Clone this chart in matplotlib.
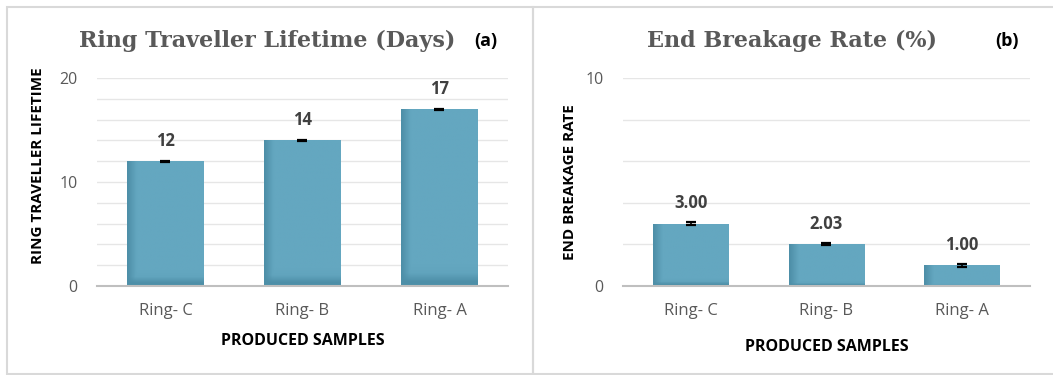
import matplotlib
matplotlib.use('Agg')
import matplotlib.pyplot as plt
from matplotlib.patches import Rectangle
import numpy as np

samples = ['Ring- C', 'Ring- B', 'Ring- A']

lifetime = [12, 14, 17]
lifetime_err = [0.05, 0.05, 0.05]
lifetime_labels = ['12', '14', '17']

breakage = [3.00, 2.03, 1.00]
breakage_err = [0.08, 0.06, 0.08]
breakage_labels = ['3.00', '2.03', '1.00']

BAR = '#64a7c0'
DARK = '#3f7f98'
GREY = '#595959'
SANS = ['Open Sans', 'DejaVu Sans']
SERIF = ['DejaVu Serif']


def shade_bars(ax, bars):
    # darker band along left edge and bottom of each bar
    xs = np.linspace(0, 1, 40)
    ys = np.linspace(0, 1, 20)
    left = np.clip(1 - xs / 0.12, 0, 1)
    bottom = np.clip(1 - ys / 0.06, 0, 1)
    grad = np.maximum(left[None, :], bottom[:, None]) * 0.6
    cmap = matplotlib.colors.LinearSegmentedColormap.from_list('sh', [BAR, DARK])
    for b in bars:
        x0, y0 = b.get_x(), b.get_y()
        im = ax.imshow(grad, extent=(x0, x0 + b.get_width(), y0, y0 + b.get_height()),
                       origin='lower', cmap=cmap, vmin=0, vmax=1, aspect='auto',
                       zorder=2, interpolation='bilinear')
        im.set_clip_path(b)


def panel(ax, values, errs, labels, ymax, major, title, tag, ylabel, tag_x):
    x = np.arange(len(samples))
    bars = ax.bar(x, values, width=0.555, color=BAR, zorder=2)
    shade_bars(ax, bars)
    ax.errorbar(x, values, yerr=errs, fmt='none', ecolor='black', elinewidth=1.2,
                capsize=3.3, capthick=1.6, zorder=4)
    for xi, v, lab in zip(x, values, labels):
        ax.annotate(lab, (xi, v), xytext=(0, 8), textcoords='offset points',
                    ha='center', va='bottom', fontsize=12, fontweight='bold',
                    color='#404040', family=SANS)
    ax.set_xlim(-0.5, 2.5)
    ax.set_ylim(0, ymax)
    ax.set_yticks(np.arange(0, ymax + 1, 2), minor=True)
    ax.set_yticks(major)
    ax.grid(axis='y', which='both', color='#e6e6e6', linewidth=1, zorder=0)
    ax.set_axisbelow(True)
    for s in ['top', 'right', 'left']:
        ax.spines[s].set_visible(False)
    ax.spines['bottom'].set_color('#bfbfbf')
    ax.spines['bottom'].set_linewidth(1.5)
    ax.spines['bottom'].set_zorder(5)
    ax.tick_params(which='both', length=0)
    ax.tick_params(axis='y', pad=14, labelsize=11.5, labelcolor=GREY)
    ax.tick_params(axis='x', pad=12, labelsize=12, labelcolor=GREY)
    ax.set_xticks(x)
    ax.set_xticklabels(samples, family=SANS)
    for t in ax.get_yticklabels():
        t.set_family(SANS)
    ax.set_xlabel('PRODUCED SAMPLES', fontsize=11.5, fontweight='bold', family=SANS,
                  labelpad=10, color='black')
    ax.set_ylabel(ylabel, fontsize=11, fontweight='bold', family=SANS, color='black')
    ax.set_title(title, fontsize=16, fontweight='bold', family=SERIF, color=GREY, pad=22)
    ax.text(tag_x, 1.18, tag, transform=ax.transAxes, fontsize=13, fontweight='bold',
            family=SANS, ha='center', va='center')


fig = plt.figure(figsize=(10.53, 3.75), dpi=100)

ax1 = fig.add_axes([0.0921, 0.2373, 0.3903, 0.5547])
panel(ax1, lifetime, lifetime_err, lifetime_labels, 20, [0, 10, 20],
      'Ring Traveller Lifetime (Days)', '(a)', 'RING TRAVELLER LIFETIME', 0.945)
ax1.yaxis.set_label_coords(-0.127, 0.58)
ax1.title.set_position((0.415, 1.0))

ax2 = fig.add_axes([0.5916, 0.2373, 0.3865, 0.5547])
panel(ax2, breakage, breakage_err, breakage_labels, 10, [0, 10],
      'End Breakage Rate (%)', '(b)', 'END BREAKAGE RATE', 0.944)
ax2.yaxis.set_label_coords(-0.113, 0.5)
ax2.xaxis.set_label_coords(0.5, -0.255)
ax2.title.set_position((0.415, 1.0))

# panel frames
edge = '#d9d9d9'
fig.add_artist(Rectangle((7 / 1053, 1 / 375), 526 / 1053, 367 / 375,
                         transform=fig.transFigure, fill=False, edgecolor=edge, lw=1.5))
fig.add_artist(Rectangle((533 / 1053, 1 / 375), 530 / 1053, 367 / 375,
                         transform=fig.transFigure, fill=False, edgecolor=edge, lw=1.5))

fig.savefig('out.png', dpi=100)
